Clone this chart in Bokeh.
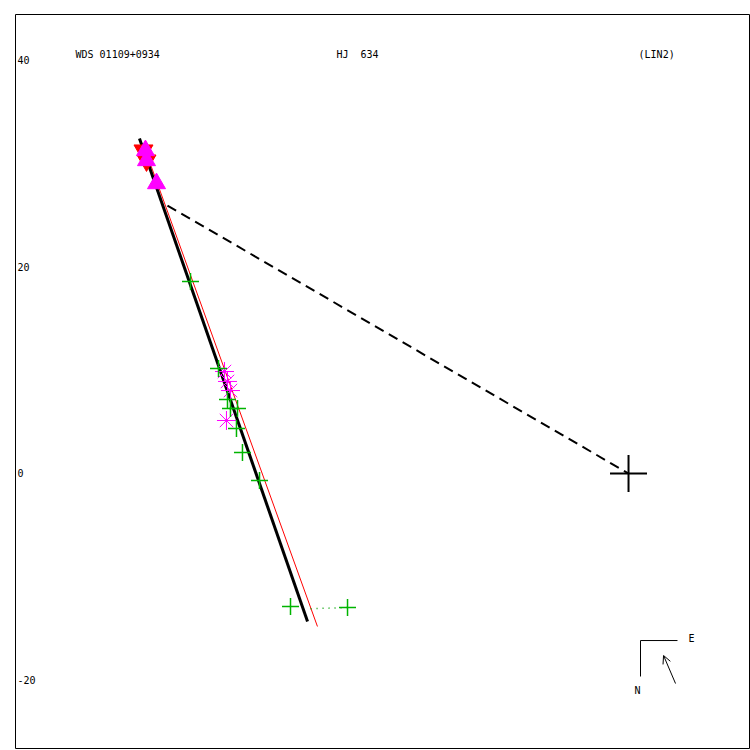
from bokeh.plotting import figure
from bokeh.embed import file_html
from bokeh.resources import INLINE
from bokeh.core.properties import value
from bokeh.models import Arrow, OpenHead

# ---- data (arcsec, relative to primary) ----
plus_x = [-42.40, -39.69, -38.82, -38.53, -37.85, -37.95, -37.37, -35.72, -32.72, -27.20]
plus_y = [18.59, 10.16, 7.16, 6.29, 6.29, 4.36, 2.03, -0.68, -12.88, -12.97]

star_x = [-39.11, -38.82, -38.53, -38.92]
star_y = [9.87, 8.91, 8.03, 5.13]

tri_x = [-46.76, -46.66, -45.69]
tri_y = [31.27, 30.30, 28.07]

itri_x = [-46.95, -46.66]
itri_y = [31.27, 30.30]

orbit_x = [-47.34, -31.07]
orbit_y = [32.43, -14.33]

orbit2_x = [-46.76, -30.11]
orbit2_y = [31.27, -14.81]

node_x = [-44.63, 0.0]
node_y = [25.94, 0.0]

resid_x = [-27.20, -31.0]
resid_y = [-12.97, -13.1]

ytick_vals = [40, 20, 0, -20]
ytick_labels = ["40", "20", "0", "-20"]

title_left = "WDS 01109+0934"
title_mid = "HJ\u00a0\u00a0634"
title_right = "(LIN2)"

FONT = value("DejaVu Sans Mono")

p = figure(width=750, height=750, output_backend="svg", toolbar_location=None,
           x_range=(-59.34, 11.71), y_range=(-26.62, 44.43),
           min_border_left=15, min_border_top=14, min_border_right=1, min_border_bottom=2)
p.axis.visible = False
p.grid.visible = False
p.outline_line_color = "black"
p.outline_line_width = 1
p.background_fill_color = "white"
p.border_fill_color = "white"

# orbits and node line
p.line(node_x, node_y, line_color="black", line_width=2, line_dash="10 6")
p.line(orbit2_x, orbit2_y, line_color="red", line_width=1)
p.line(orbit_x, orbit_y, line_color="black", line_width=3)
p.line(resid_x, resid_y, line_color="#00a000", line_width=1.5, line_dash="1 5")

# observations
p.scatter(itri_x, itri_y, marker="inverted_triangle", size=19, fill_color="red", line_color="red")
p.scatter(tri_x, tri_y, marker="triangle", size=18, fill_color="#ff00ff", line_color="#ff00ff")
p.scatter(star_x, star_y, marker="asterisk", size=19, line_color="#ff00ff", line_width=1)
p.scatter(plus_x, plus_y, marker="cross", size=17, line_color="#00b400", line_width=1.5)

# primary
p.scatter([0], [0], marker="cross", size=37, line_color="black", line_width=2)

# texts
p.text([-53.53], [40.56], text=[title_left], text_font=FONT, text_font_size="10px",
       text_baseline="middle", text_align="left", text_color="black")
p.text([-28.27], [40.56], text=[title_mid], text_font=FONT, text_font_size="10px",
       text_baseline="middle", text_align="left", text_color="black")
p.text([0.97], [40.56], text=[title_right], text_font=FONT, text_font_size="10px",
       text_baseline="middle", text_align="left", text_color="black")
p.text([-59.15] * len(ytick_vals), ytick_vals, text=ytick_labels, text_font=FONT,
       text_font_size="10px", text_baseline="middle", text_align="left", text_color="black")

# compass
p.line([1.16, 1.16, 4.74], [-19.65, -16.17, -16.17], line_color="black", line_width=1)
p.text([5.81], [-15.97], text=["E"], text_font=FONT, text_font_size="10px",
       text_baseline="middle", text_align="left")
p.text([0.87], [-21.0], text=["N"], text_font=FONT, text_font_size="10px",
       text_baseline="middle", text_align="center")
p.add_layout(Arrow(x_start=4.55, y_start=-20.33, x_end=3.39, y_end=-17.62,
                   line_color="black", line_width=1,
                   end=OpenHead(size=8, line_color="black", line_width=1)))

open("out.html", "w").write(file_html(p, INLINE))
